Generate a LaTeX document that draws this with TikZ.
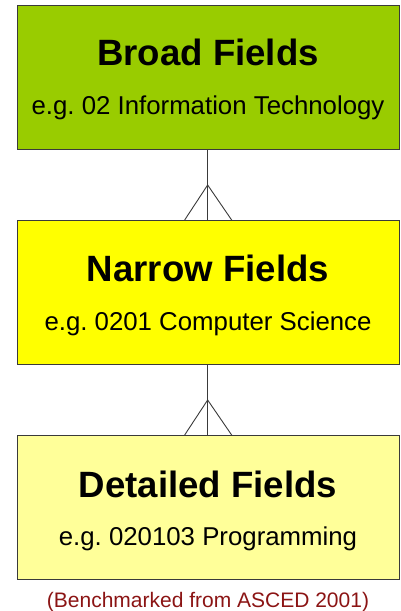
\documentclass[tikz,border=0pt]{standalone}
\usepackage{fontspec}
\setmainfont{Liberation Sans}
\usetikzlibrary{calc}
\definecolor{broadgreen}{HTML}{99CC00}
\definecolor{narrowyellow}{HTML}{FFFF00}
\definecolor{detailyellow}{HTML}{FFFF99}
\definecolor{framegray}{HTML}{3A3A3A}
\definecolor{notered}{HTML}{8B1414}
\frenchspacing
\begin{document}
\begin{tikzpicture}[x=1pt,y=-1pt,
  levelbox/.style={draw=framegray,line width=1.3pt,rectangle,inner sep=0pt,
    minimum width=382pt,minimum height=144pt,anchor=north west},
  headtext/.style={anchor=base,font=\fontsize{36.6}{40}\selectfont\bfseries,inner sep=0pt},
  subtext/.style={anchor=base,font=\fontsize{25.8}{30}\selectfont,inner sep=0pt},
  link/.style={draw=framegray,line width=0.9pt}]
\useasboundingbox (0,0) rectangle (401,611);

% the three classification levels
\node[levelbox,fill=broadgreen]   (broad)  at (17,5)   {};
\node[levelbox,fill=narrowyellow] (narrow) at (17,220) {};
\node[levelbox,fill=detailyellow] (detail) at (17,435) {};

\node[headtext] (broadT)  at (208,65)  {Broad Fields};
\node[subtext]  (broadS)  at (208,114) {e.g. 02 Information Technology};
\node[headtext] (narrowT) at (208,281) {Narrow Fields};
\node[subtext]  (narrowS) at (208,330) {e.g. 0201 Computer Science};
\node[headtext] (detailT) at (208,497) {Detailed Fields};
\node[subtext]  (detailS) at (208,545) {e.g. 020103 Programming};

% one-to-many links (crow's foot on the lower box)
\coordinate (fork1) at ($(narrow.north)+(-1,-35)$);
\coordinate (fork2) at ($(detail.north)+(-1,-35)$);
\draw[link] ($(broad.south)+(-1,0)$) -- ($(narrow.north)+(-1,0)$);
\draw[link] ($(narrow.north)+(-24,0)$) -- (fork1) -- ($(narrow.north)+(23,0)$);
\draw[link] ($(narrow.south)+(-1,0)$) -- ($(detail.north)+(-1,0)$);
\draw[link] ($(detail.north)+(-24,0)$) -- (fork2) -- ($(detail.north)+(23,0)$);

\node[anchor=base,text=notered,font=\fontsize{21}{24}\selectfont,inner sep=0pt]
  (source) at (208,607) {(Benchmarked from ASCED 2001)};
\end{tikzpicture}
\end{document}
